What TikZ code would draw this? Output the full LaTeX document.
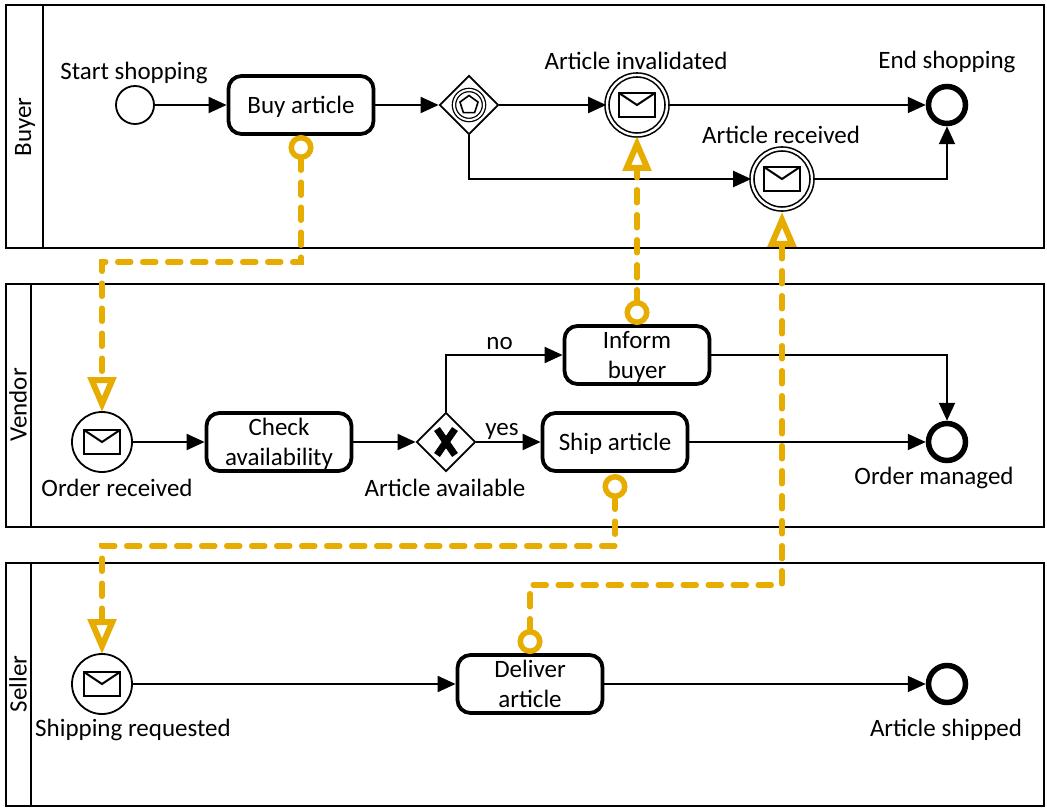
\documentclass[tikz,border=0pt]{standalone}
\usepackage{fontspec}
\setmainfont{Carlito}
\usetikzlibrary{arrows.meta,shapes.geometric,calc}

\tikzset{
  every node/.style={font=\fontsize{25}{30}\selectfont,align=center},
  pool/.style={draw,rectangle,line width=2pt,minimum width=1038pt,minimum height=243pt,inner sep=0pt},
  poolline/.style={line width=2pt},
  task/.style={draw,rectangle,rounded corners=13pt,line width=3.8pt,minimum width=145pt,minimum height=58pt,inner sep=0pt,execute at begin node=\rule{0pt}{22pt}},
  lowtask/.style={task,execute at begin node=\rule{0pt}{51pt}},
  start/.style={draw,circle,line width=1.8pt,minimum size=38pt,inner sep=0pt},
  finish/.style={draw,circle,line width=5.5pt,minimum size=37pt,inner sep=0pt},
  mail/.style={path picture={
    \draw[line width=2pt] ($(path picture bounding box.center)+(-18pt,12pt)$) rectangle ($(path picture bounding box.center)+(18pt,-12pt)$);
    \draw[line width=2pt] ($(path picture bounding box.center)+(-18pt,12pt)$) -- ($(path picture bounding box.center)+(0pt,0pt)$) -- ($(path picture bounding box.center)+(18pt,12pt)$);
  }},
  msgstart/.style={draw,circle,line width=1.8pt,minimum size=60pt,inner sep=0pt,mail},
  msgcatch/.style={draw,circle,line width=1.6pt,double,double distance=2.4pt,minimum size=60pt,inner sep=0pt,mail},
  gate/.style={draw,diamond,aspect=1,line width=1.8pt,minimum width=59pt,minimum height=59pt,inner sep=0pt},
  flow/.style={line width=2pt,-{Triangle[length=18pt,width=16pt]}},
  message/.style={draw=msgcolor,line width=5.5pt,line cap=round,dash pattern=on 13pt off 12pt,
    {Circle[open,length=25pt,width=25pt,line width=5.5pt,fill=white]}-{Triangle[open,length=35pt,width=28pt,line width=6pt,fill=white]}},
}
\definecolor{msgcolor}{HTML}{E6AC00}

\begin{document}
\begin{tikzpicture}[x=1pt,y=-1pt]
  \useasboundingbox (0,0) rectangle (1047,810);

  % pools
  \node[pool] (buyer) at (525,126.5) {};
  \node[pool] (vendor) at (525,405.5) {};
  \node[pool] (seller) at (525,684.5) {};
  \draw[poolline] ([xshift=38pt]buyer.north west) -- ([xshift=38pt]buyer.south west);
  \draw[poolline] ([xshift=26pt]vendor.north west) -- ([xshift=26pt]vendor.south west);
  \draw[poolline] ([xshift=26pt]seller.north west) -- ([xshift=26pt]seller.south west);
  \node[rotate=90] (buyername) at (25,127) {Buyer};
  \node[rotate=90] (vendorname) at (18,405) {Vendor};
  \node[rotate=90] (sellername) at (18,684) {Seller};

  % buyer
  \node[start] (shop) at (135,105) {};
  \node[task] (buy) at (301,105) {Buy article};
  \node[gate] (eventgate) at (469,105) {};
  \node[draw,circle,line width=1.3pt,double,double distance=2pt,minimum size=30pt,inner sep=0pt] (gatering) at (469,105) {};
  \node[draw,regular polygon,regular polygon sides=5,line width=1.6pt,minimum size=19pt,inner sep=0pt] (gatepenta) at (469,105) {};
  \node[msgcatch] (invalid) at (637,105) {};
  \node[msgcatch] (received) at (782,179) {};
  \node[finish] (shopend) at (947,105) {};
  \node (shoplabel) at (134,73) {Start shopping};
  \node (invalidlabel) at (636,61) {Article invalidated};
  \node (receivedlabel) at (781,135) {Article received};
  \node (shopendlabel) at (947,62) {End shopping};

  % vendor
  \node[msgstart] (order) at (102,442) {};
  \node[lowtask] (check) at (279,442) {Check\\availability};
  \node[gate] (xgate) at (446,442) {};
  \node[lowtask] (inform) at (637,355) {Inform\\buyer};
  \node[task] (ship) at (615,442) {Ship article};
  \node[finish] (orderend) at (947,442) {};
  \node (orderlabel) at (117,488) {Order received};
  \node (xlabel) at (445,488) {Article available};
  \node (orderendlabel) at (934,478) {Order managed};
  \draw[line width=7pt] ([shift={(-9pt,-13pt)}]xgate.center) -- ([shift={(9pt,13pt)}]xgate.center);
  \draw[line width=7pt] ([shift={(9pt,-13pt)}]xgate.center) -- ([shift={(-9pt,13pt)}]xgate.center);

  % seller
  \node[msgstart] (request) at (102,684) {};
  \node[task] (deliver) at (530,684) {Deliver\\article};
  \node[finish] (sellend) at (947,684) {};
  \node (requestlabel) at (133,730) {Shipping requested};
  \node (sellendlabel) at (946,730) {Article shipped};

  % sequence flows
  \draw[flow] (shop) -- (buy);
  \draw[flow] (buy) -- (eventgate);
  \draw[flow] (eventgate) -- (invalid);
  \draw[flow] (eventgate.south) |- (received);
  \draw[flow] (invalid) -- (shopend);
  \draw[flow] (received) -| (shopend);
  \draw[flow] (order) -- (check);
  \draw[flow] (check) -- (xgate);
  \draw[flow] (xgate.north) |- node[pos=0.73,above=1pt] (nolabel) {no} (inform);
  \draw[flow] (xgate) -- node[pos=0.4,above=-2pt] (yeslabel) {yes} (ship);
  \draw[flow] (inform) -| (orderend);
  \draw[flow] (ship) -- (orderend);
  \draw[flow] (request) -- (deliver);
  \draw[flow] (deliver) -- (sellend);

  % message flows
  \coordinate (buytail) at (301,135);
  \coordinate (shiptail) at (615,474);
  \coordinate (delivertail) at (530,654);
  \coordinate (informtail) at (637,325);
  \coordinate (ordertip) at (102,412);
  \coordinate (requesttip) at (102,654);
  \coordinate (invalidtip) at (637,136);
  \coordinate (receivedtip) at (782,212);
  \draw[message] (buytail) -- (301,262) -- (102,262) -- (ordertip);
  \draw[message] (shiptail) -- (615,546) -- (102,546) -- (requesttip);
  \draw[message] (delivertail) -- (530,585) -- (782,585) -- (receivedtip);
  \draw[message] (informtail) -- (invalidtip);
\end{tikzpicture}
\end{document}
